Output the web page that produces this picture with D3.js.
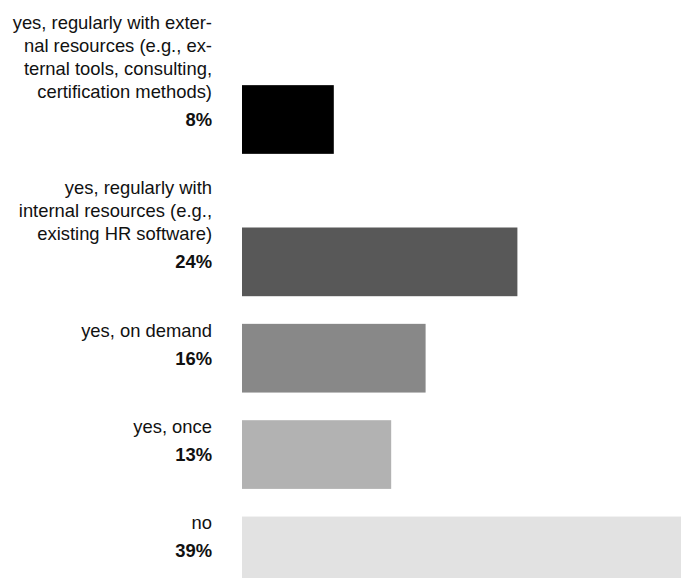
<!DOCTYPE html>
<html>
<head>
<meta charset="utf-8">
<script src="https://cdn.jsdelivr.net/npm/d3@7"></script>
<style>
  html, body { margin: 0; padding: 0; background: #fff; overflow: hidden; }
  text { font-family: "Liberation Sans", Arial, sans-serif; fill: #111; }
</style>
</head>
<body>
<div id="chart"></div>
<script>
// answer categories (label lines, as broken in the source) and shares in %
var categories = ["regular-external", "regular-internal", "on-demand", "once", "no"];
var labelLines = [
  ["yes, regularly with exter-", "nal resources (e.g., ex-", "ternal tools, consulting,", "certification methods)"],
  ["yes, regularly with", "internal resources (e.g.,", "existing HR software)"],
  ["yes, on demand"],
  ["yes, once"],
  ["no"]
];
var values = [8, 24, 16, 13, 39];
var barColors = ["#000000", "#585858", "#888888", "#b2b2b2", "#e2e2e2"];

var width = 681, height = 578;
var barLeft = 242, labelRight = 212;
var barH = 68.7, lineH = 23, rowGap = 22.5, firstTop = 11;

var svg = d3.select("#chart").append("svg")
  .attr("width", width)
  .attr("height", height);

var x = d3.scaleLinear().domain([0, 40]).range([0, 459]);

// stack the rows: label lines above, percent next to the bar centre
var rows = [];
var cursor = firstTop;
categories.forEach(function(c, i) {
  var n = labelLines[i].length;
  var centre = cursor + lineH / 2 + n * lineH + 5;
  rows.push({ key: c, lines: labelLines[i], value: values[i], color: barColors[i], centre: centre, textTop: cursor });
  cursor = centre + barH / 2 + rowGap;
});

var g = svg.selectAll(".row")
  .data(rows)
  .enter().append("g")
  .attr("class", "row");

g.append("rect")
  .attr("x", barLeft)
  .attr("y", function(d) { return d.centre - barH / 2; })
  .attr("width", function(d) { return x(d.value); })
  .attr("height", barH)
  .attr("fill", function(d) { return d.color; });

g.each(function(d) {
  var sel = d3.select(this);
  d.lines.forEach(function(line, k) {
    sel.append("text")
      .attr("x", labelRight)
      .attr("y", d.textTop + lineH / 2 + k * lineH)
      .attr("dy", "0.35em")
      .attr("text-anchor", "end")
      .style("font-size", "18.4px")
      .text(line);
  });
  sel.append("text")
    .attr("x", labelRight)
    .attr("y", d.centre)
    .attr("dy", "0.35em")
    .attr("text-anchor", "end")
    .style("font-size", "18.4px")
    .style("font-weight", "bold")
    .text(d.value + "%");
});
</script>
</body>
</html>
